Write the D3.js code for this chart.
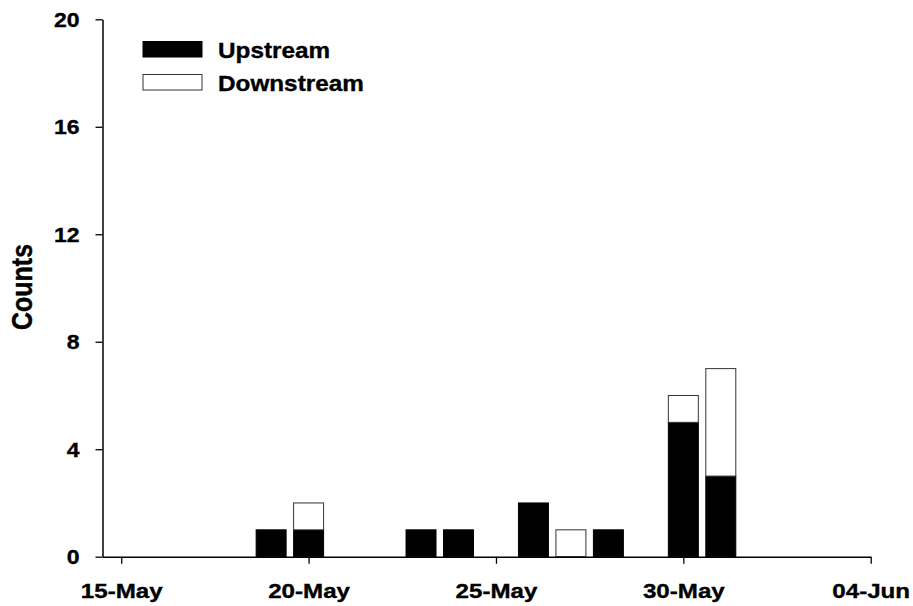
<!DOCTYPE html>
<html>
<head>
<meta charset="utf-8">
<script src="https://cdn.jsdelivr.net/npm/d3@7"></script>
<style>
  html, body { margin: 0; padding: 0; background: #fff; }
  svg text { font-family: "Liberation Sans", Arial, Helvetica, sans-serif; font-weight: bold; fill: #000;
             stroke: #000; stroke-width: 0.35px; }
</style>
</head>
<body>
<svg id="chart" width="913" height="606"></svg>
<script>
// Daily counts by site
const dates = ["2000-05-19", "2000-05-20", "2000-05-23", "2000-05-24", "2000-05-26",
               "2000-05-27", "2000-05-28", "2000-05-30", "2000-05-31"];
const upstream   = [1, 1, 1, 1, 2, 0, 1, 5, 3];
const downstream = [0, 1, 0, 0, 0, 1, 0, 1, 4];
const seriesNames = ["Upstream", "Downstream"];
const yTicks = [0, 4, 8, 12, 16, 20];
const xTickDates = ["2000-05-15", "2000-05-20", "2000-05-25", "2000-05-30", "2000-06-04"];

const parse = d3.utcParse("%Y-%m-%d");
const fmt = d3.utcFormat("%d-%b");
const stretch = 1.15; // wide lettering (horizontal)

const svg = d3.select("#chart");
const plotLeft = 102.5, plotRight = 870.7, plotTop = 19.3, plotBottom = 556.7;

const x = d3.scaleUtc()
  .domain([d3.utcHour.offset(parse("2000-05-15"), -12), parse("2000-06-04")])
  .range([plotLeft, plotRight]);
const y = d3.scaleLinear().domain([0, 20]).range([plotBottom, plotTop]);

const dayW = x(parse("2000-05-02")) - x(parse("2000-05-01"));
const barW = dayW * 0.8;

const rows = dates.map((d, i) => ({ date: parse(d), up: upstream[i], down: downstream[i] }));

// Bars: upstream at the base, downstream stacked above
const g = svg.append("g");
rows.forEach(r => {
  const cx = x(r.date);
  if (r.up > 0) {
    g.append("rect")
      .attr("x", cx - barW / 2).attr("width", barW)
      .attr("y", y(r.up)).attr("height", y(0) - y(r.up))
      .attr("fill", "#000").attr("stroke", "#000").attr("stroke-width", 1);
  }
  if (r.down > 0) {
    g.append("rect")
      .attr("x", cx - barW / 2).attr("width", barW)
      .attr("y", y(r.up + r.down)).attr("height", y(r.up) - y(r.up + r.down))
      .attr("fill", "#fff").attr("stroke", "#333").attr("stroke-width", 1);
  }
});

// Y axis
const yAxis = svg.append("g")
  .attr("transform", `translate(${plotLeft},0)`)
  .call(d3.axisLeft(y).tickValues(yTicks).tickSize(7).tickSizeOuter(0).tickPadding(0));
yAxis.select(".domain").attr("stroke", "#000").attr("stroke-width", 1.5);
yAxis.selectAll(".tick line").attr("stroke", "#000").attr("stroke-width", 1.3);
yAxis.selectAll(".tick text")
  .attr("x", -23 / stretch).attr("dy", "0.36em")
  .attr("transform", `scale(${stretch},1)`)
  .style("font-size", "20px");

// X axis
const xAxis = svg.append("g")
  .attr("transform", `translate(0,${plotBottom})`)
  .call(d3.axisBottom(x).tickValues(xTickDates.map(parse)).tickFormat(fmt)
        .tickSize(7).tickSizeOuter(0));
xAxis.select(".domain").attr("stroke", "#000").attr("stroke-width", 1.5);
xAxis.selectAll(".tick line").attr("stroke", "#000").attr("stroke-width", 1.3);
xAxis.selectAll(".tick text")
  .attr("y", 41.6).attr("dy", 0)
  .attr("transform", `scale(${stretch},1)`)
  .style("font-size", "21px");

// Y axis title (vertical; the widening applies across the letters)
svg.append("text")
  .attr("transform", `translate(32,287) scale(${stretch},1) rotate(-90)`)
  .attr("text-anchor", "middle")
  .style("font-size", "25px")
  .text("Counts");

// Legend
const legend = svg.append("g");
const legendFill = ["#000", "#fff"];
const legendStroke = ["#000", "#333"];
seriesNames.forEach((name, i) => {
  const yy = [41.5, 74.5][i];
  legend.append("rect")
    .attr("x", 143).attr("y", yy).attr("width", 59).attr("height", 15.5)
    .attr("fill", legendFill[i]).attr("stroke", legendStroke[i]).attr("stroke-width", 1);
  legend.append("text")
    .attr("transform", `translate(218,${yy + 16}) scale(${stretch - 0.02},1)`)
    .style("font-size", "21.5px")
    .text(name);
});
</script>
</body>
</html>
